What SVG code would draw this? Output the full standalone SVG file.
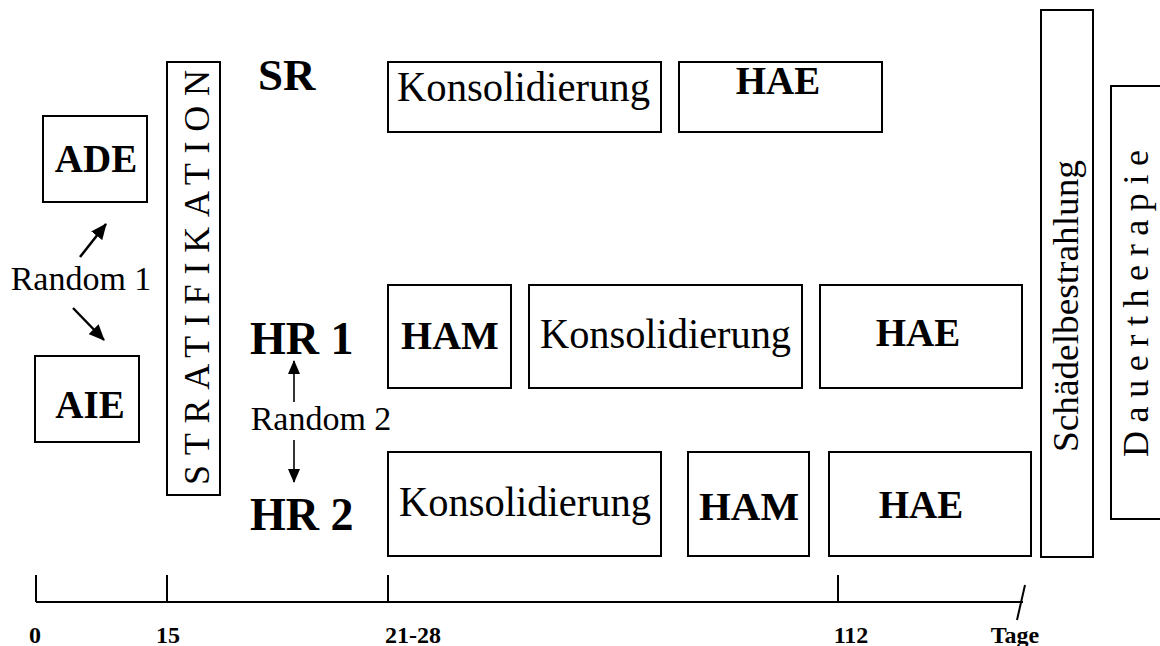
<svg xmlns="http://www.w3.org/2000/svg" width="1160" height="646" viewBox="0 0 1160 646">
<defs>
<style>
.box{fill:#fff;stroke:#000;stroke-width:2}
.t{font-family:"Liberation Serif","Times New Roman",serif;fill:#000}
.b{font-weight:bold}
.ln{stroke:#000;stroke-width:2;fill:none}
.ln1{stroke:#000;stroke-width:2.5;fill:none}
.ln2{stroke:#000;stroke-width:1.6;fill:none}
</style>
<marker id="ah" viewBox="0 0 14 12" refX="13" refY="6" markerWidth="14" markerHeight="12" orient="auto" markerUnits="userSpaceOnUse">
<path d="M0,0 L14,6 L0,12 z" fill="#000"/>
</marker>
<marker id="ahb" viewBox="0 0 16 14" refX="15" refY="7" markerWidth="16" markerHeight="14" orient="auto" markerUnits="userSpaceOnUse">
<path d="M0,0 L16,7 L0,14 z" fill="#000"/>
</marker>
</defs>
<rect width="1160" height="646" fill="#fff"/>

<g id="ADE"><rect class="box" x="43" y="116" width="104" height="86"/><text class="t b" x="96" y="172" font-size="39" text-anchor="middle">ADE</text></g>
<g id="AIE"><rect class="box" x="35" y="356" width="104" height="86"/><text class="t b" x="90" y="418" font-size="39" text-anchor="middle">AIE</text></g>
<g id="random1"><text class="t" x="81" y="290" font-size="34" text-anchor="middle">Random 1</text></g>
<g id="strat"><rect class="box" x="167" y="62" width="53" height="433"/><text class="t" transform="translate(209,485) rotate(-90)" font-size="36" textLength="415" lengthAdjust="spacing">STRATIFIKATION</text></g>

<g id="SR"><text class="t b" x="258" y="90" font-size="45">SR</text></g>
<g id="HR1"><text class="t b" x="250" y="354" font-size="46">HR 1</text></g>
<g id="random2"><text class="t" x="321" y="430" font-size="34" text-anchor="middle">Random 2</text></g>
<g id="HR2"><text class="t b" x="250" y="530" font-size="46">HR 2</text></g>

<g id="sr-kons"><rect class="box" x="388" y="62" width="273" height="70"/><text class="t" x="397" y="101" font-size="43" textLength="253" lengthAdjust="spacingAndGlyphs">Konsolidierung</text></g>
<g id="sr-hae"><rect class="box" x="679" y="62" width="203" height="70"/><text class="t b" x="778" y="94" font-size="39" text-anchor="middle">HAE</text></g>

<g id="hr1-ham"><rect class="box" x="388" y="285" width="123" height="103"/><text class="t b" x="450" y="349" font-size="40" text-anchor="middle">HAM</text></g>
<g id="hr1-kons"><rect class="box" x="529" y="285" width="273" height="103"/><text class="t" x="540" y="348" font-size="43" textLength="251" lengthAdjust="spacingAndGlyphs">Konsolidierung</text></g>
<g id="hr1-hae"><rect class="box" x="820" y="285" width="202" height="103"/><text class="t b" x="918" y="346" font-size="39" text-anchor="middle">HAE</text></g>

<g id="hr2-kons"><rect class="box" x="388" y="452" width="273" height="104"/><text class="t" x="399" y="516" font-size="43" textLength="252" lengthAdjust="spacingAndGlyphs">Konsolidierung</text></g>
<g id="hr2-ham"><rect class="box" x="688" y="452" width="121" height="104"/><text class="t b" x="749" y="520" font-size="41" text-anchor="middle">HAM</text></g>
<g id="hr2-hae"><rect class="box" x="829" y="452" width="202" height="104"/><text class="t b" x="921" y="518" font-size="39" text-anchor="middle">HAE</text></g>

<g id="schaedel"><rect class="box" x="1041" y="10" width="52" height="547"/><text class="t" transform="translate(1078,452) rotate(-90)" font-size="36" textLength="292" lengthAdjust="spacingAndGlyphs">Schädelbestrahlung</text></g>
<g id="dauer"><rect class="box" x="1111" y="86" width="52" height="433"/><text class="t" transform="translate(1148,457) rotate(-90)" font-size="36" textLength="307" lengthAdjust="spacing">Dauertherapie</text></g>

<g id="connectors">
<line class="ln1" x1="80" y1="257" x2="106" y2="224" marker-end="url(#ahb)"/>
<line class="ln1" x1="73" y1="308" x2="104" y2="340" marker-end="url(#ahb)"/>
<line class="ln2" x1="294" y1="402" x2="294" y2="361" marker-end="url(#ah)"/>
<line class="ln2" x1="294" y1="440" x2="294" y2="482" marker-end="url(#ah)"/>
</g>

<g id="axis">
<line class="ln" x1="36" y1="602" x2="1023" y2="602"/>
<line class="ln" x1="36" y1="575" x2="36" y2="602"/>
<line class="ln" x1="167" y1="575" x2="167" y2="602"/>
<line class="ln" x1="388" y1="575" x2="388" y2="602"/>
<line class="ln" x1="838" y1="575" x2="838" y2="602"/>
<line class="ln" x1="1025" y1="585" x2="1017" y2="620"/>
<text class="t b" x="35" y="643" font-size="24" text-anchor="middle">0</text>
<text class="t b" x="168" y="643" font-size="24" text-anchor="middle">15</text>
<text class="t b" x="413" y="643" font-size="24" text-anchor="middle">21-28</text>
<text class="t b" x="851" y="643" font-size="24" text-anchor="middle">112</text>
<text class="t b" x="1015" y="643" font-size="24" text-anchor="middle">Tage</text>
</g>
</svg>
